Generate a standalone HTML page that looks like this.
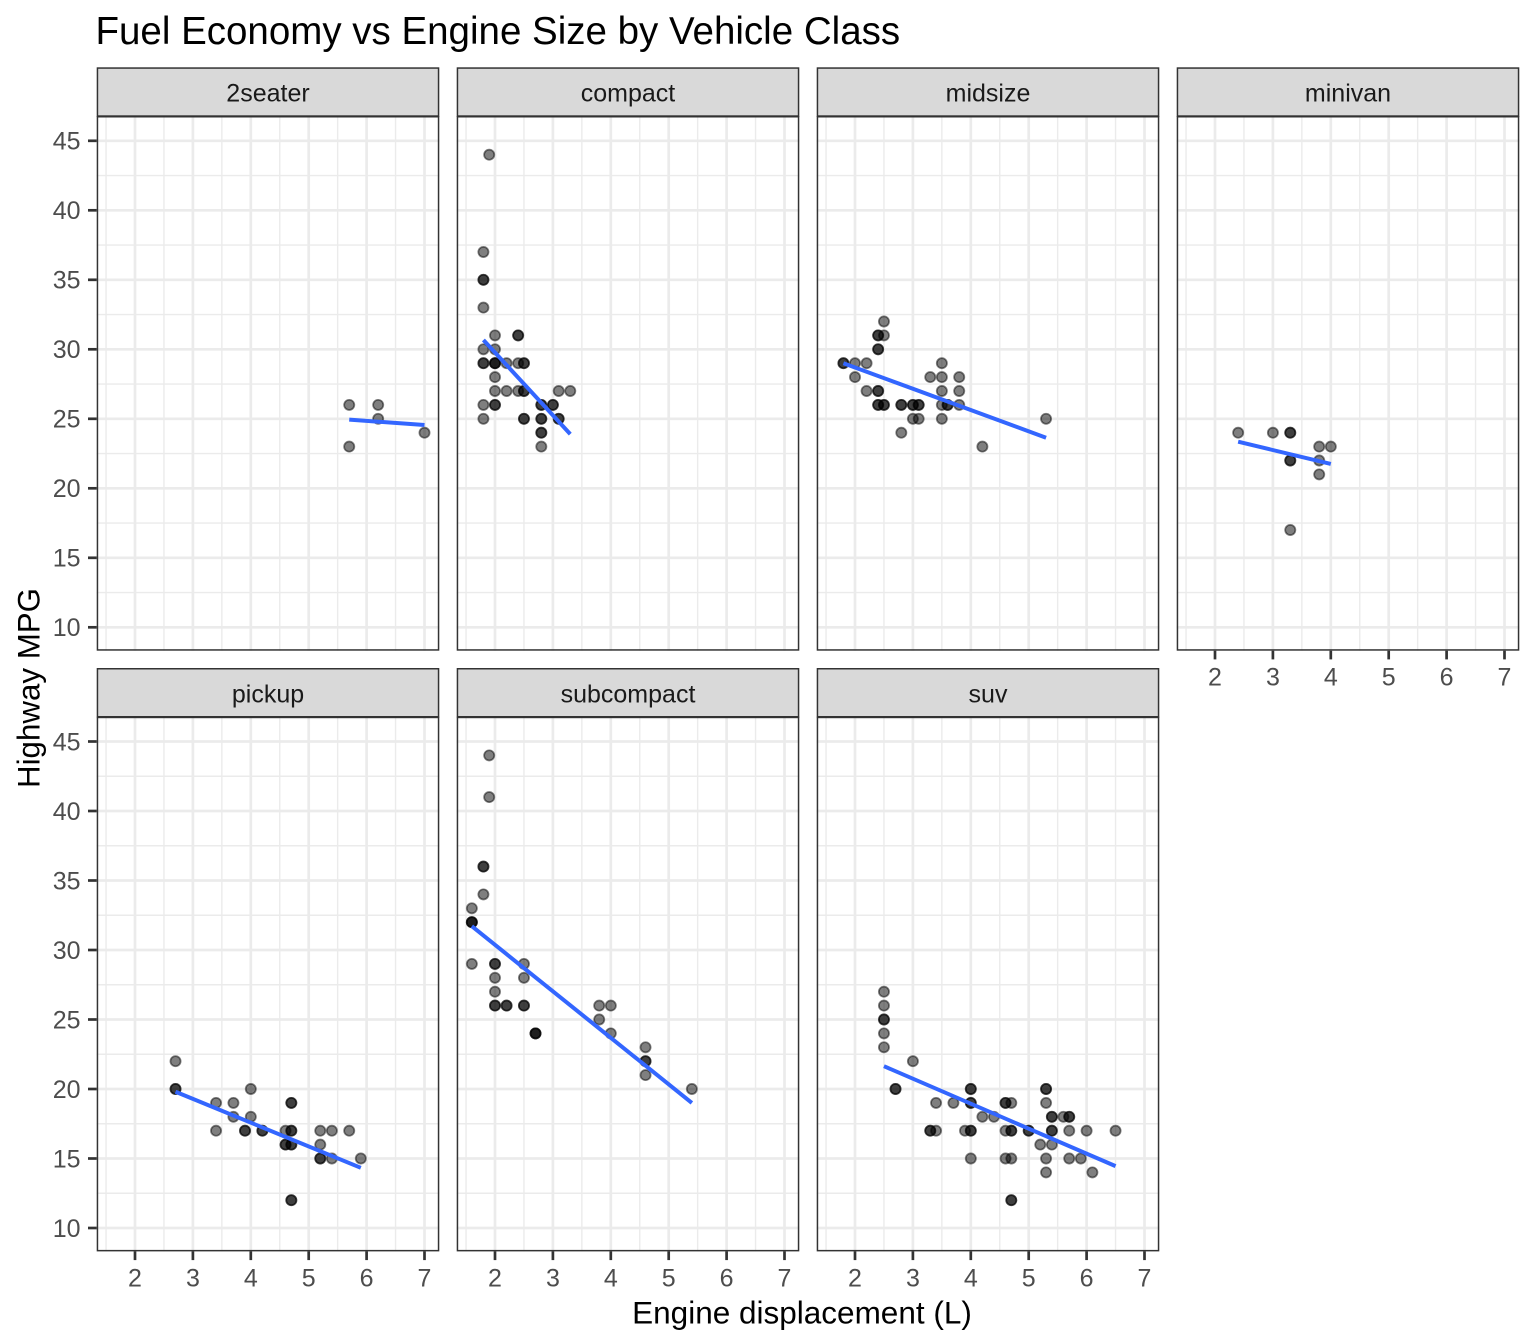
<!DOCTYPE html>
<html>
<head>
<meta charset="utf-8">
<style>
html,body{margin:0;padding:0;background:#fff;}
svg{display:block;}
text{font-family:"Liberation Sans", Arial, sans-serif;}
</style>
</head>
<body>
<svg xmlns="http://www.w3.org/2000/svg" width="1536" height="1344" viewBox="0 0 1536 1344">
<defs>
  <circle id="p" r="5.1" transform="scale(0.0172712,0.0719424)" fill="rgba(0,0,0,0.5)" stroke="rgba(0,0,0,0.5)" stroke-width="1.7"/>
  <g id="grid">
    <rect x="96.7" y="116" width="342.6" height="534.7" fill="#ffffff"/>
    <g stroke="#ebebeb" stroke-width="1.4">
      <line x1="106.05" y1="116" x2="106.05" y2="650.7"/>
      <line x1="163.95" y1="116" x2="163.95" y2="650.7"/>
      <line x1="221.85" y1="116" x2="221.85" y2="650.7"/>
      <line x1="279.75" y1="116" x2="279.75" y2="650.7"/>
      <line x1="337.65" y1="116" x2="337.65" y2="650.7"/>
      <line x1="395.55" y1="116" x2="395.55" y2="650.7"/>
      <line x1="96.7" y1="175.55" x2="439.3" y2="175.55"/>
      <line x1="96.7" y1="245.05" x2="439.3" y2="245.05"/>
      <line x1="96.7" y1="314.55" x2="439.3" y2="314.55"/>
      <line x1="96.7" y1="384.05" x2="439.3" y2="384.05"/>
      <line x1="96.7" y1="453.55" x2="439.3" y2="453.55"/>
      <line x1="96.7" y1="523.05" x2="439.3" y2="523.05"/>
      <line x1="96.7" y1="592.55" x2="439.3" y2="592.55"/>
    </g>
    <g stroke="#ebebeb" stroke-width="2.7">
      <line x1="135" y1="116" x2="135" y2="650.7"/>
      <line x1="192.9" y1="116" x2="192.9" y2="650.7"/>
      <line x1="250.8" y1="116" x2="250.8" y2="650.7"/>
      <line x1="308.7" y1="116" x2="308.7" y2="650.7"/>
      <line x1="366.6" y1="116" x2="366.6" y2="650.7"/>
      <line x1="424.5" y1="116" x2="424.5" y2="650.7"/>
      <line x1="96.7" y1="140.8" x2="439.3" y2="140.8"/>
      <line x1="96.7" y1="210.3" x2="439.3" y2="210.3"/>
      <line x1="96.7" y1="279.8" x2="439.3" y2="279.8"/>
      <line x1="96.7" y1="349.3" x2="439.3" y2="349.3"/>
      <line x1="96.7" y1="418.8" x2="439.3" y2="418.8"/>
      <line x1="96.7" y1="488.3" x2="439.3" y2="488.3"/>
      <line x1="96.7" y1="557.8" x2="439.3" y2="557.8"/>
      <line x1="96.7" y1="627.3" x2="439.3" y2="627.3"/>
    </g>
  </g>
  <g id="frame">
    <rect x="97.45" y="116.75" width="341.1" height="533.2" fill="none" stroke="#333333" stroke-width="1.5"/>
    <rect x="97.45" y="68.05" width="341.1" height="48" fill="#d9d9d9" stroke="#333333" stroke-width="1.5"/>
  </g>
  <g id="xt" stroke="#333333" stroke-width="2.7">
    <line x1="135" y1="650.7" x2="135" y2="659.4"/>
    <line x1="192.9" y1="650.7" x2="192.9" y2="659.4"/>
    <line x1="250.8" y1="650.7" x2="250.8" y2="659.4"/>
    <line x1="308.7" y1="650.7" x2="308.7" y2="659.4"/>
    <line x1="366.6" y1="650.7" x2="366.6" y2="659.4"/>
    <line x1="424.5" y1="650.7" x2="424.5" y2="659.4"/>
  </g>
  <g id="yt" stroke="#333333" stroke-width="2.7">
    <line x1="88" y1="140.8" x2="96.7" y2="140.8"/>
    <line x1="88" y1="210.3" x2="96.7" y2="210.3"/>
    <line x1="88" y1="279.8" x2="96.7" y2="279.8"/>
    <line x1="88" y1="349.3" x2="96.7" y2="349.3"/>
    <line x1="88" y1="418.8" x2="96.7" y2="418.8"/>
    <line x1="88" y1="488.3" x2="96.7" y2="488.3"/>
    <line x1="88" y1="557.8" x2="96.7" y2="557.8"/>
    <line x1="88" y1="627.3" x2="96.7" y2="627.3"/>
  </g>
</defs>

<rect width="1536" height="1344" fill="#ffffff"/>

<!-- grids -->
<use href="#grid"/>
<use href="#grid" x="360"/>
<use href="#grid" x="720"/>
<use href="#grid" x="1080"/>
<use href="#grid" y="600.7"/>
<use href="#grid" x="360" y="600.7"/>
<use href="#grid" x="720" y="600.7"/>

<!-- 2seater -->
<g transform="translate(19.2,766.3) scale(57.9,-13.9)">
  <use href="#p" x="5.7" y="26"/><use href="#p" x="5.7" y="23"/><use href="#p" x="6.2" y="26"/><use href="#p" x="6.2" y="25"/><use href="#p" x="7" y="24"/>
  <line x1="5.7" y1="24.94" x2="7" y2="24.55" stroke="#3366FF" stroke-width="4" vector-effect="non-scaling-stroke"/>
</g>

<!-- compact -->
<g transform="translate(379.2,766.3) scale(57.9,-13.9)">
  <use href="#p" x="1.8" y="37"/><use href="#p" x="1.8" y="35"/><use href="#p" x="1.8" y="35"/><use href="#p" x="1.8" y="33"/><use href="#p" x="1.8" y="30"/><use href="#p" x="1.8" y="29"/><use href="#p" x="1.8" y="29"/><use href="#p" x="1.8" y="26"/><use href="#p" x="1.8" y="25"/>
  <use href="#p" x="1.9" y="44"/>
  <use href="#p" x="2" y="31"/><use href="#p" x="2" y="30"/><use href="#p" x="2" y="29"/><use href="#p" x="2" y="29"/><use href="#p" x="2" y="29"/><use href="#p" x="2" y="28"/><use href="#p" x="2" y="27"/><use href="#p" x="2" y="26"/><use href="#p" x="2" y="26"/>
  <use href="#p" x="2.2" y="29"/><use href="#p" x="2.2" y="27"/>
  <use href="#p" x="2.4" y="31"/><use href="#p" x="2.4" y="31"/><use href="#p" x="2.4" y="29"/><use href="#p" x="2.4" y="27"/>
  <use href="#p" x="2.5" y="29"/><use href="#p" x="2.5" y="29"/><use href="#p" x="2.5" y="27"/><use href="#p" x="2.5" y="27"/><use href="#p" x="2.5" y="25"/><use href="#p" x="2.5" y="25"/>
  <use href="#p" x="2.8" y="26"/><use href="#p" x="2.8" y="26"/><use href="#p" x="2.8" y="25"/><use href="#p" x="2.8" y="25"/><use href="#p" x="2.8" y="24"/><use href="#p" x="2.8" y="24"/><use href="#p" x="2.8" y="23"/>
  <use href="#p" x="3" y="26"/><use href="#p" x="3" y="26"/>
  <use href="#p" x="3.1" y="27"/><use href="#p" x="3.1" y="25"/><use href="#p" x="3.1" y="25"/>
  <use href="#p" x="3.3" y="27"/>
  <line x1="1.8" y1="30.67" x2="3.3" y2="23.9" stroke="#3366FF" stroke-width="4" vector-effect="non-scaling-stroke"/>
</g>

<!-- midsize -->
<g transform="translate(739.2,766.3) scale(57.9,-13.9)">
  <use href="#p" x="1.8" y="29"/><use href="#p" x="1.8" y="29"/>
  <use href="#p" x="2" y="29"/><use href="#p" x="2" y="28"/>
  <use href="#p" x="2.2" y="29"/><use href="#p" x="2.2" y="27"/>
  <use href="#p" x="2.4" y="31"/><use href="#p" x="2.4" y="31"/><use href="#p" x="2.4" y="30"/><use href="#p" x="2.4" y="30"/><use href="#p" x="2.4" y="27"/><use href="#p" x="2.4" y="27"/><use href="#p" x="2.4" y="26"/><use href="#p" x="2.4" y="26"/>
  <use href="#p" x="2.5" y="32"/><use href="#p" x="2.5" y="31"/><use href="#p" x="2.5" y="26"/><use href="#p" x="2.5" y="26"/>
  <use href="#p" x="2.8" y="26"/><use href="#p" x="2.8" y="26"/><use href="#p" x="2.8" y="24"/>
  <use href="#p" x="3" y="26"/><use href="#p" x="3" y="26"/><use href="#p" x="3" y="25"/>
  <use href="#p" x="3.1" y="26"/><use href="#p" x="3.1" y="26"/><use href="#p" x="3.1" y="25"/>
  <use href="#p" x="3.3" y="28"/>
  <use href="#p" x="3.5" y="29"/><use href="#p" x="3.5" y="28"/><use href="#p" x="3.5" y="27"/><use href="#p" x="3.5" y="26"/><use href="#p" x="3.5" y="25"/>
  <use href="#p" x="3.6" y="26"/><use href="#p" x="3.6" y="26"/>
  <use href="#p" x="3.8" y="28"/><use href="#p" x="3.8" y="27"/><use href="#p" x="3.8" y="26"/>
  <use href="#p" x="4.2" y="23"/>
  <use href="#p" x="5.3" y="25"/>
  <line x1="1.8" y1="29.0" x2="5.3" y2="23.64" stroke="#3366FF" stroke-width="4" vector-effect="non-scaling-stroke"/>
</g>

<!-- minivan -->
<g transform="translate(1099.2,766.3) scale(57.9,-13.9)">
  <use href="#p" x="2.4" y="24"/><use href="#p" x="3" y="24"/><use href="#p" x="3.3" y="24"/><use href="#p" x="3.3" y="24"/><use href="#p" x="3.3" y="22"/><use href="#p" x="3.3" y="22"/><use href="#p" x="3.3" y="17"/><use href="#p" x="3.8" y="23"/><use href="#p" x="3.8" y="22"/><use href="#p" x="3.8" y="21"/><use href="#p" x="4" y="23"/>
  <line x1="2.4" y1="23.35" x2="4" y2="21.75" stroke="#3366FF" stroke-width="4" vector-effect="non-scaling-stroke"/>
</g>

<!-- pickup -->
<g transform="translate(19.2,1367) scale(57.9,-13.9)">
  <use href="#p" x="2.7" y="22"/><use href="#p" x="2.7" y="20"/><use href="#p" x="2.7" y="20"/>
  <use href="#p" x="3.4" y="19"/><use href="#p" x="3.4" y="17"/>
  <use href="#p" x="3.7" y="19"/><use href="#p" x="3.7" y="18"/>
  <use href="#p" x="3.9" y="17"/><use href="#p" x="3.9" y="17"/>
  <use href="#p" x="4" y="20"/><use href="#p" x="4" y="18"/>
  <use href="#p" x="4.2" y="17"/><use href="#p" x="4.2" y="17"/>
  <use href="#p" x="4.6" y="17"/><use href="#p" x="4.6" y="16"/><use href="#p" x="4.6" y="16"/>
  <use href="#p" x="4.7" y="19"/><use href="#p" x="4.7" y="19"/><use href="#p" x="4.7" y="17"/><use href="#p" x="4.7" y="17"/><use href="#p" x="4.7" y="16"/><use href="#p" x="4.7" y="16"/><use href="#p" x="4.7" y="12"/><use href="#p" x="4.7" y="12"/>
  <use href="#p" x="5.2" y="17"/><use href="#p" x="5.2" y="16"/><use href="#p" x="5.2" y="15"/><use href="#p" x="5.2" y="15"/>
  <use href="#p" x="5.4" y="17"/><use href="#p" x="5.4" y="15"/>
  <use href="#p" x="5.7" y="17"/>
  <use href="#p" x="5.9" y="15"/>
  <line x1="2.7" y1="19.8" x2="5.9" y2="14.33" stroke="#3366FF" stroke-width="4" vector-effect="non-scaling-stroke"/>
</g>

<!-- subcompact -->
<g transform="translate(379.2,1367) scale(57.9,-13.9)">
  <use href="#p" x="1.6" y="33"/><use href="#p" x="1.6" y="32"/><use href="#p" x="1.6" y="32"/><use href="#p" x="1.6" y="32"/><use href="#p" x="1.6" y="29"/>
  <use href="#p" x="1.8" y="36"/><use href="#p" x="1.8" y="36"/><use href="#p" x="1.8" y="34"/>
  <use href="#p" x="1.9" y="44"/><use href="#p" x="1.9" y="41"/>
  <use href="#p" x="2" y="29"/><use href="#p" x="2" y="29"/><use href="#p" x="2" y="28"/><use href="#p" x="2" y="27"/><use href="#p" x="2" y="26"/><use href="#p" x="2" y="26"/>
  <use href="#p" x="2.2" y="26"/><use href="#p" x="2.2" y="26"/>
  <use href="#p" x="2.5" y="29"/><use href="#p" x="2.5" y="28"/><use href="#p" x="2.5" y="26"/><use href="#p" x="2.5" y="26"/>
  <use href="#p" x="2.7" y="24"/><use href="#p" x="2.7" y="24"/><use href="#p" x="2.7" y="24"/>
  <use href="#p" x="3.8" y="26"/><use href="#p" x="3.8" y="25"/>
  <use href="#p" x="4" y="26"/><use href="#p" x="4" y="24"/>
  <use href="#p" x="4.6" y="23"/><use href="#p" x="4.6" y="22"/><use href="#p" x="4.6" y="22"/><use href="#p" x="4.6" y="21"/>
  <use href="#p" x="5.4" y="20"/>
  <line x1="1.6" y1="31.71" x2="5.4" y2="19.0" stroke="#3366FF" stroke-width="4" vector-effect="non-scaling-stroke"/>
</g>

<!-- suv -->
<g transform="translate(739.2,1367) scale(57.9,-13.9)">
  <use href="#p" x="2.5" y="27"/><use href="#p" x="2.5" y="26"/><use href="#p" x="2.5" y="25"/><use href="#p" x="2.5" y="25"/><use href="#p" x="2.5" y="24"/><use href="#p" x="2.5" y="23"/>
  <use href="#p" x="2.7" y="20"/><use href="#p" x="2.7" y="20"/>
  <use href="#p" x="3" y="22"/>
  <use href="#p" x="3.3" y="17"/><use href="#p" x="3.3" y="17"/>
  <use href="#p" x="3.4" y="19"/><use href="#p" x="3.4" y="17"/>
  <use href="#p" x="3.7" y="19"/>
  <use href="#p" x="3.9" y="17"/>
  <use href="#p" x="4" y="20"/><use href="#p" x="4" y="20"/><use href="#p" x="4" y="19"/><use href="#p" x="4" y="19"/><use href="#p" x="4" y="17"/><use href="#p" x="4" y="17"/><use href="#p" x="4" y="15"/>
  <use href="#p" x="4.2" y="18"/>
  <use href="#p" x="4.4" y="18"/>
  <use href="#p" x="4.6" y="19"/><use href="#p" x="4.6" y="19"/><use href="#p" x="4.6" y="17"/><use href="#p" x="4.6" y="15"/>
  <use href="#p" x="4.7" y="19"/><use href="#p" x="4.7" y="17"/><use href="#p" x="4.7" y="17"/><use href="#p" x="4.7" y="15"/><use href="#p" x="4.7" y="12"/><use href="#p" x="4.7" y="12"/>
  <use href="#p" x="5" y="17"/><use href="#p" x="5" y="17"/>
  <use href="#p" x="5.2" y="16"/>
  <use href="#p" x="5.3" y="20"/><use href="#p" x="5.3" y="20"/><use href="#p" x="5.3" y="19"/><use href="#p" x="5.3" y="15"/><use href="#p" x="5.3" y="14"/>
  <use href="#p" x="5.4" y="18"/><use href="#p" x="5.4" y="18"/><use href="#p" x="5.4" y="17"/><use href="#p" x="5.4" y="17"/><use href="#p" x="5.4" y="16"/>
  <use href="#p" x="5.6" y="18"/>
  <use href="#p" x="5.7" y="18"/><use href="#p" x="5.7" y="18"/><use href="#p" x="5.7" y="17"/><use href="#p" x="5.7" y="15"/>
  <use href="#p" x="5.9" y="15"/>
  <use href="#p" x="6" y="17"/>
  <use href="#p" x="6.1" y="14"/>
  <use href="#p" x="6.5" y="17"/>
  <line x1="2.5" y1="21.64" x2="6.5" y2="14.45" stroke="#3366FF" stroke-width="4" vector-effect="non-scaling-stroke"/>
</g>

<!-- frames & strips -->
<use href="#frame"/>
<use href="#frame" x="360"/>
<use href="#frame" x="720"/>
<use href="#frame" x="1080"/>
<use href="#frame" y="600.7"/>
<use href="#frame" x="360" y="600.7"/>
<use href="#frame" x="720" y="600.7"/>

<!-- ticks -->
<use href="#yt"/>
<use href="#yt" y="600.7"/>
<use href="#xt" x="1080"/>
<use href="#xt" y="600.7"/>
<use href="#xt" x="360" y="600.7"/>
<use href="#xt" x="720" y="600.7"/>

<!-- strip labels -->
<g font-size="25" fill="#1a1a1a" text-anchor="middle">
  <text x="268" y="101.7">2seater</text>
  <text x="628" y="101.7">compact</text>
  <text x="988" y="101.7">midsize</text>
  <text x="1348" y="101.7">minivan</text>
  <text x="268" y="702.4">pickup</text>
  <text x="628" y="702.4">subcompact</text>
  <text x="988" y="702.4">suv</text>
</g>

<!-- y tick labels -->
<g font-size="25" fill="#4d4d4d" text-anchor="end">
  <text x="80.5" y="149.6">45</text>
  <text x="80.5" y="219.1">40</text>
  <text x="80.5" y="288.6">35</text>
  <text x="80.5" y="358.1">30</text>
  <text x="80.5" y="427.6">25</text>
  <text x="80.5" y="497.1">20</text>
  <text x="80.5" y="566.6">15</text>
  <text x="80.5" y="636.1">10</text>
  <text x="80.5" y="750.3">45</text>
  <text x="80.5" y="819.8">40</text>
  <text x="80.5" y="889.3">35</text>
  <text x="80.5" y="958.8">30</text>
  <text x="80.5" y="1028.3">25</text>
  <text x="80.5" y="1097.8">20</text>
  <text x="80.5" y="1167.3">15</text>
  <text x="80.5" y="1236.8">10</text>
</g>

<!-- x tick labels -->
<g font-size="25" fill="#4d4d4d" text-anchor="middle">
  <text x="1215" y="685.5">2</text><text x="1272.9" y="685.5">3</text><text x="1330.8" y="685.5">4</text><text x="1388.7" y="685.5">5</text><text x="1446.6" y="685.5">6</text><text x="1504.5" y="685.5">7</text>
  <text x="135" y="1286.7">2</text><text x="192.9" y="1286.7">3</text><text x="250.8" y="1286.7">4</text><text x="308.7" y="1286.7">5</text><text x="366.6" y="1286.7">6</text><text x="424.5" y="1286.7">7</text>
  <text x="495" y="1286.7">2</text><text x="552.9" y="1286.7">3</text><text x="610.8" y="1286.7">4</text><text x="668.7" y="1286.7">5</text><text x="726.6" y="1286.7">6</text><text x="784.5" y="1286.7">7</text>
  <text x="855" y="1286.7">2</text><text x="912.9" y="1286.7">3</text><text x="970.8" y="1286.7">4</text><text x="1028.7" y="1286.7">5</text><text x="1086.6" y="1286.7">6</text><text x="1144.5" y="1286.7">7</text>
</g>

<!-- titles -->
<text x="95.5" y="44" font-size="38.5" fill="#000000">Fuel Economy vs Engine Size by Vehicle Class</text>
<text x="802" y="1323.3" font-size="31.5" fill="#000000" text-anchor="middle">Engine displacement (L)</text>
<text transform="translate(39.5,688) rotate(-90)" font-size="31.3" fill="#000000" text-anchor="middle">Highway MPG</text>
</svg>
</body>
</html>
